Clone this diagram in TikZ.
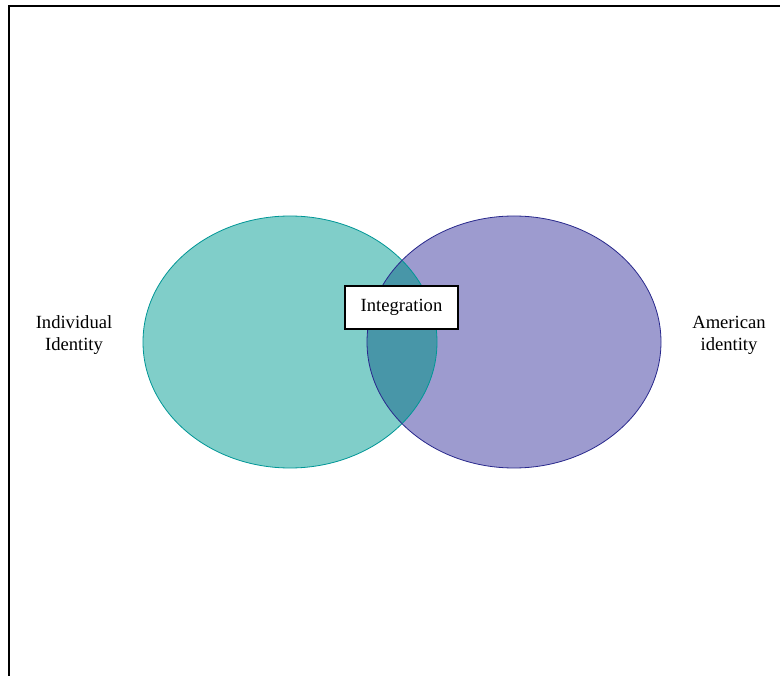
\documentclass[tikz,border=0pt]{standalone}
\usepackage{fontspec}
\setmainfont{Liberation Serif}
\begin{document}
\begin{tikzpicture}[x=1pt,y=-1pt,
  lbl/.style={align=center,font=\fontsize{18.6}{22}\selectfont,inner sep=0pt},
  framebox/.style={draw=black,line width=1.8pt,fill=white,font=\fontsize{18.6}{22}\selectfont,minimum width=113pt,minimum height=43pt,inner sep=0pt}]
\definecolor{leftfill}{RGB}{128,206,201}
\definecolor{leftline}{RGB}{0,150,150}
\definecolor{rightfill}{RGB}{157,155,207}
\definecolor{rightline}{RGB}{40,40,140}
\definecolor{midfill}{RGB}{72,150,168}
\useasboundingbox (0,0) rectangle (780,676);
\fill[white] (0,0) rectangle (780,676);
% frame
\draw[line width=2pt] (9,676) -- (9,6) -- (780,6);
% ellipses
\fill[leftfill] (290,342) ellipse [x radius=147, y radius=126];
\fill[rightfill] (514,342) ellipse [x radius=147, y radius=126];
\begin{scope}
  \clip (290,342) ellipse [x radius=147, y radius=126];
  \fill[midfill] (514,342) ellipse [x radius=147, y radius=126];
\end{scope}
\draw[leftline,line width=0.8pt] (290,342) ellipse [x radius=147, y radius=126];
\draw[rightline,line width=0.8pt] (514,342) ellipse [x radius=147, y radius=126];
% labels
\node[lbl] (ind) at (74,335) {Individual\\Identity};
\node[lbl] (am) at (729,335) {American\\identity};
\node[framebox] (integ) at (401.5,307.5) {Integration};
\end{tikzpicture}
\end{document}
